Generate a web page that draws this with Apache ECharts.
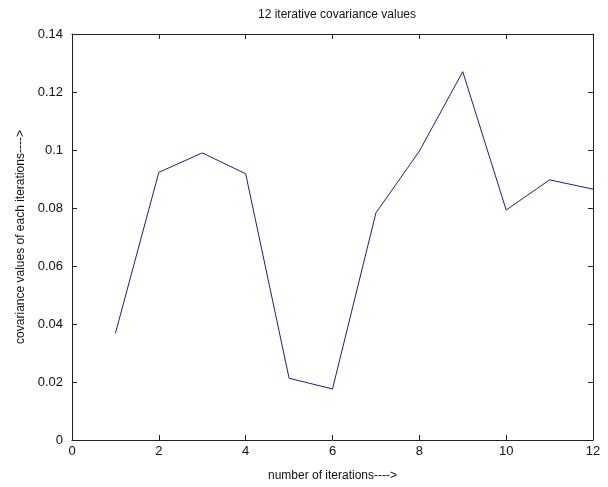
<!DOCTYPE html>
<html><head><meta charset="utf-8">
<script src="https://cdn.jsdelivr.net/npm/echarts@6/dist/echarts.min.js"></script>
<style>html,body{margin:0;padding:0;background:#fff}#c{width:608px;height:487px}</style>
</head><body><div id="c"></div>
<script>
var iterations = [1,2,3,4,5,6,7,8,9,10,11,12];
var covValues = [0.0368,0.0923,0.0990,0.0918,0.0213,0.0176,0.0783,0.0996,0.1270,0.0793,0.0897,0.0865];
var xTicks = [0,2,4,6,8,10,12];
var yTicks = [0,0.02,0.04,0.06,0.08,0.1,0.12,0.14];

var font = 'Liberation Sans, Arial, sans-serif';
var chart = echarts.init(document.getElementById('c'));
var axisLine = {show:true, onZero:false, lineStyle:{color:'#222', width:1}};
var tickIn = {show:true, inside:true, length:5, lineStyle:{color:'#222'}};
chart.setOption({
  animation:false,
  backgroundColor:'#fff',
  title:{text:'12 iterative covariance values', left:332, top:4, textAlign:'center',
    textStyle:{fontFamily:font, fontSize:12, fontWeight:'normal', color:'#111'}},
  grid:{left:72, top:34, width:521, height:408, containLabel:false},
  xAxis:[{type:'value', min:0, max:12, interval:2, position:'bottom',
    name:'number of iterations---->', nameLocation:'middle', nameGap:30,
    nameTextStyle:{fontFamily:font, fontSize:12, color:'#111'},
    axisLine:axisLine, axisTick:tickIn, splitLine:{show:false},
    axisLabel:{fontFamily:font, fontSize:13, color:'#111', margin:5,
      formatter:function(v){return xTicks.indexOf(v)>=0?String(v):'';}}},
   {type:'value', min:0, max:12, interval:2, position:'top',
    axisLine:axisLine, axisTick:tickIn, axisLabel:{show:false}, splitLine:{show:false}}],
  yAxis:[{type:'value', min:0, max:0.14, interval:0.02, position:'left',
    name:'covariance values of each iterations---->', nameLocation:'middle', nameGap:45,
    nameTextStyle:{fontFamily:font, fontSize:12, color:'#111'},
    axisLine:axisLine, axisTick:tickIn, splitLine:{show:false},
    axisLabel:{fontFamily:font, fontSize:13, color:'#111', margin:9,
      formatter:function(v){var r=Math.round(v*100)/100; return yTicks.indexOf(r)>=0?String(r):'';}}},
   {type:'value', min:0, max:0.14, interval:0.02, position:'right',
    axisLine:axisLine, axisTick:tickIn, axisLabel:{show:false}, splitLine:{show:false}}],
  series:[{type:'line', data:iterations.map(function(x,i){return [x,covValues[i]];}),
    showSymbol:false, symbol:'none', lineStyle:{color:'#1c1c9a', width:1}}]
});
</script></body></html>
